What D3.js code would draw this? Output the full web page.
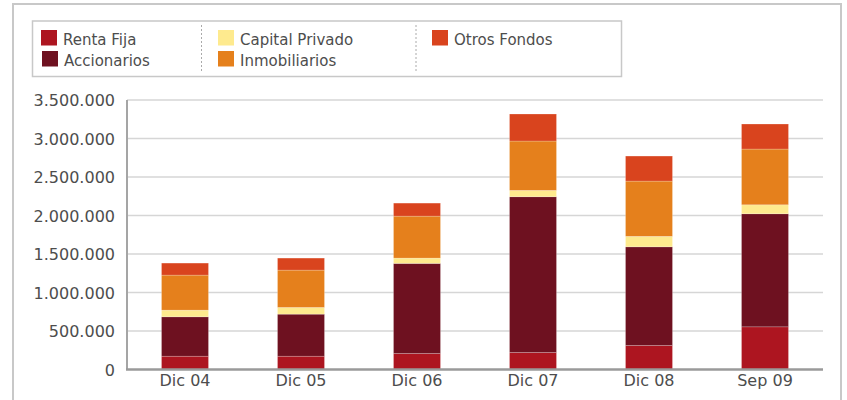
<!DOCTYPE html>
<html>
<head>
<meta charset="utf-8">
<script src="https://cdn.jsdelivr.net/npm/d3@7"></script>
<style>
  html, body { margin: 0; padding: 0; background: #fff; }
  svg text { font-family: "DejaVu Sans", sans-serif; fill: #4d4d4d; }
</style>
</head>
<body>
<div id="chart"></div>
<script>
// Periodos
const periodos = ["Dic 04", "Dic 05", "Dic 06", "Dic 07", "Dic 08", "Sep 09"];

// Valores por serie
const rentaFija      = [173000, 173000, 208000, 221000, 312000, 554000];
const accionarios    = [511000, 546000, 1170000, 2022000, 1281000, 1468000];
const capitalPrivado = [87000, 87000, 69000, 83000, 136000, 117000];
const inmobiliarios  = [455000, 485000, 545000, 641000, 718000, 724000];
const otrosFondos    = [156000, 156000, 169000, 351000, 325000, 325000];

const series = [
    { key: "rf",  label: "Renta Fija",      values: rentaFija,      color: "#ad1520" },
    { key: "acc", label: "Accionarios",     values: accionarios,    color: "#6e1120" },
    { key: "cp",  label: "Capital Privado", values: capitalPrivado, color: "#feea8e" },
    { key: "inm", label: "Inmobiliarios",   values: inmobiliarios,  color: "#e5801c" },
    { key: "of",  label: "Otros Fondos",    values: otrosFondos,    color: "#d9441e" }
];

const yTicks = [0, 500000, 1000000, 1500000, 2000000, 2500000, 3000000, 3500000];

const width = 847, height = 400;
const plot = { left: 127, right: 823, top: 100, bottom: 369.5 };

const svg = d3.select("#chart").append("svg")
    .attr("width", width)
    .attr("height", height);

// Marco exterior
svg.append("rect")
    .attr("x", 13).attr("y", 4)
    .attr("width", 828).attr("height", 420)
    .attr("fill", "none")
    .attr("stroke", "#c8c8c8")
    .attr("stroke-width", 2);

// Tabla para d3.stack
const table = periodos.map((p, i) => {
    const row = { periodo: p };
    series.forEach(s => row[s.key] = s.values[i]);
    return row;
});
const stacked = d3.stack().keys(series.map(s => s.key))(table);

const x = d3.scaleBand()
    .domain(periodos)
    .range([plot.left, plot.right])
    .paddingInner(0.595)
    .paddingOuter(0.2975);

const y = d3.scaleLinear()
    .domain([0, 3500000])
    .range([plot.bottom, plot.top]);

const fmt = v => d3.format(",")(v).replace(/,/g, ".");

// Líneas de grilla
svg.append("g")
    .selectAll("line")
    .data(yTicks.filter(t => t > 0))
    .join("line")
    .attr("x1", plot.left).attr("x2", plot.right)
    .attr("y1", d => y(d)).attr("y2", d => y(d))
    .attr("stroke", "#d6d6d6")
    .attr("stroke-width", 1.5);

// Eje Y (etiquetas)
const yAxis = svg.append("g")
    .attr("transform", `translate(${plot.left},0)`)
    .call(d3.axisLeft(y).tickValues(yTicks).tickFormat(fmt).tickSize(0).tickPadding(12));
yAxis.select(".domain").remove();
yAxis.selectAll("text")
    .attr("font-size", 16)
    .attr("dy", "0.36em")
    .style("font-family", '"DejaVu Sans", sans-serif')
    .attr("fill", "#4d4d4d");

// Barras apiladas
const colorOf = d3.scaleOrdinal(series.map(s => s.key), series.map(s => s.color));
svg.append("g")
    .selectAll("g")
    .data(stacked)
    .join("g")
    .attr("fill", d => colorOf(d.key))
    .selectAll("rect")
    .data(d => d)
    .join("rect")
    .attr("x", d => x(d.data.periodo))
    .attr("width", x.bandwidth())
    .attr("y", d => y(d[1]))
    .attr("height", d => y(d[0]) - y(d[1]))
    .attr("stroke", "rgba(255,255,255,0.35)")
    .attr("stroke-width", 0.6);

// Línea vertical del eje
svg.append("line")
    .attr("x1", plot.left).attr("x2", plot.left)
    .attr("y1", plot.top).attr("y2", plot.bottom)
    .attr("stroke", "#a5a5a5")
    .attr("stroke-width", 2);

// Eje X
const xAxis = svg.append("g")
    .attr("transform", `translate(0,${plot.bottom})`)
    .call(d3.axisBottom(x).tickSize(0).tickPadding(5));
xAxis.select(".domain")
    .attr("stroke", "#9a9a9a")
    .attr("stroke-width", 2.5)
    .attr("d", `M${plot.left - 1},0H${plot.right}`);
xAxis.selectAll("text")
    .attr("font-size", 16)
    .style("font-family", '"DejaVu Sans", sans-serif')
    .attr("fill", "#4d4d4d");

// Leyenda
const legend = svg.append("g");
legend.append("rect")
    .attr("x", 32.5).attr("y", 21)
    .attr("width", 589).attr("height", 55.5)
    .attr("fill", "#fff")
    .attr("stroke", "#c8c8c8")
    .attr("stroke-width", 1.5);

[201.5, 416].forEach(xx => {
    legend.append("line")
        .attr("x1", xx).attr("x2", xx)
        .attr("y1", 25).attr("y2", 71)
        .attr("stroke", "#aaa")
        .attr("stroke-width", 1)
        .attr("stroke-dasharray", "2,2");
});

// Posición de cada item: columna, fila
const legendPos = { rf: [41, 0], acc: [42, 1], cp: [218, 0], inm: [218, 1], of: [432, 0] };
series.forEach(s => {
    const [lx, row] = legendPos[s.key];
    const ly = 30 + row * 21;
    legend.append("rect")
        .attr("x", lx).attr("y", ly)
        .attr("width", 16).attr("height", 15.5)
        .attr("fill", s.color);
    legend.append("text")
        .attr("x", lx + 22).attr("y", ly + 14.5)
        .attr("font-size", 15)
        .text(s.label);
});
</script>
</body>
</html>
